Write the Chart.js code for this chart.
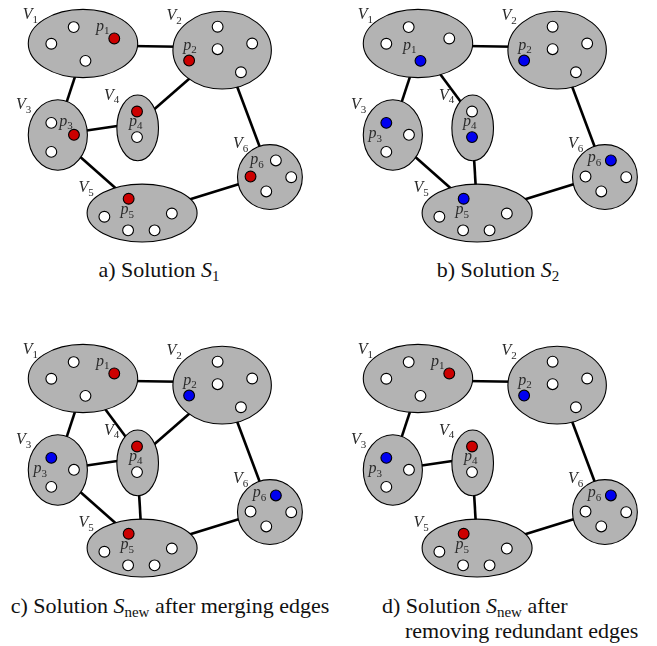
<!DOCTYPE html>
<html>
<head>
<meta charset="utf-8">
<script src="https://cdn.jsdelivr.net/npm/chart.js@4.4.1/dist/chart.umd.min.js"></script>
<style>
body { margin: 0; background: #fff; font-family: 'Liberation Serif', serif; }
#page { position: relative; width: 657px; height: 646px; color: #111; }
.panel { position: absolute; width: 322px; height: 252px; }
.cap { position: absolute; font-family: 'Liberation Serif', serif; font-size: 22px; line-height: 25px; white-space: nowrap; }
.cap i { font-style: italic; }
.cap sub { font-size: 15px; vertical-align: -4px; line-height: 0; }
</style>
</head>
<body>
<div id="page">
  <div class="panel" style="left:0;top:0"><canvas id="panel-a" width="322" height="252"></canvas></div>
  <div class="panel" style="left:335px;top:0"><canvas id="panel-b" width="322" height="252"></canvas></div>
  <div class="panel" style="left:0;top:335px"><canvas id="panel-c" width="322" height="252"></canvas></div>
  <div class="panel" style="left:335px;top:335px"><canvas id="panel-d" width="322" height="252"></canvas></div>

  <div class="cap" style="left:0;top:257px;width:318px;text-align:center">a) Solution <i>S</i><sub>1</sub></div>
  <div class="cap" style="left:339px;top:257px;width:318px;text-align:center">b) Solution <i>S</i><sub>2</sub></div>
  <div class="cap" style="left:0;top:593px;width:340px;text-align:center">c) Solution <i>S</i><sub>new</sub> after merging edges</div>
  <div class="cap" style="left:382px;top:593px">d) Solution <i>S</i><sub>new</sub> after<br><span style="padding-left:23px">removing redundant edges</span></div>
</div>

<script>
// clusters V1..V6 (diagram units, y grows downward)
const clusterNames = ['V1', 'V2', 'V3', 'V4', 'V5', 'V6'];
const clusterX = [79.7, 224.7, 53.5, 136.7, 141.3, 274.5];
const clusterY = [39, 46, 135.5, 128, 217.8, 179.8];
const clusterRx = [57, 51.3, 30.8, 21.7, 57.3, 33.8];
const clusterRy = [36, 41, 37.2, 34.7, 30.5, 34.2];

// members of each cluster
const membersX = [
    [70, 46.7, 82.3, 112.3],
    [220, 220, 256, 244.3, 190.3],
    [46.7, 46.7, 70.3],
    [136, 136],
    [127.3, 102, 126.7, 154.3, 172.3],
    [254.3, 280.7, 296.7, 270.7]
];
const membersY = [
    [21.7, 39.3, 57.3, 33.7],
    [21.3, 45, 39, 69.3, 57],
    [122.7, 153.3, 135.3],
    [110.7, 137.7],
    [202.7, 221.7, 236, 236, 218.3],
    [179.3, 162.3, 180, 195]
];

// which member is the representative p_i, and which solution it comes from
const repA = [3, 4, 2, 0, 0, 0];
const repB = [2, 4, 0, 1, 0, 1];
const repNew = [3, 4, 0, 0, 0, 1];
const srcA = ['S1', 'S1', 'S1', 'S1', 'S1', 'S1'];
const srcB = ['S2', 'S2', 'S2', 'S2', 'S2', 'S2'];
const srcNew = ['S1', 'S2', 'S2', 'S1', 'S1', 'S2'];

// edges between clusters
const edgesA = ['1-2', '1-3', '3-4', '2-4', '2-6', '3-5', '5-6'];
const edgesB = ['1-2', '1-3', '1-4', '4-5', '2-6', '3-5', '5-6'];
const edgesC = ['1-2', '1-3', '1-4', '3-4', '2-4', '4-5', '2-6', '3-5', '5-6'];
const edgesD = ['1-2', '1-3', '3-4', '4-5', '2-6', '5-6'];
const edgeEnds = {
    '1-2': [130, 41.6, 180, 42.4],
    '1-3': [72, 72, 62, 103],
    '1-4': [100.8, 68.5, 124.6, 101],
    '3-4': [80, 131.3, 119, 125.4],
    '2-4': [151, 111, 194, 73],
    '4-5': [138, 158, 140, 192],
    '2-6': [239, 81, 265, 151],
    '3-5': [74, 156, 117, 194.5],
    '5-6': [188, 204.2, 246, 186]
};

// label placement
const vLabelX = [17, 166.7, 10, 101.7, 75, 236];
const vLabelY = [13.3, 14.3, 108.3, 98.5, 196, 149.5];
const pLabelPos = {
    '0:3': [93.3, 25.5], '0:2': [64.2, 45.5],
    '1:4': [184.3, 45.5],
    '2:2': [55, 125.5], '2:0': [28.2, 139],
    '3:0': [127.7, 125.5], '3:1': [126.5, 125.5],
    '4:0': [118.7, 219],
    '5:0': [254, 166.5], '5:1': [256.5, 164]
};

const solutionColor = { S1: '#cc0000', S2: '#0000f0' };
const labelFont = "'Liberation Serif', serif";
Chart.defaults.font.family = labelFont;

function drawLabel(ctx, x, y, base, sub) {
    ctx.font = 'italic 16px ' + labelFont;
    ctx.fillText(base, x, y);
    const w = ctx.measureText(base).width;
    ctx.font = '11px ' + labelFont;
    ctx.fillText(sub, x + w, y + 3.5);
}

const clusterPlugin = {
    id: 'clusters',
    beforeDatasetDraw(chart, args) {
        if (chart.data.datasets[args.index].role !== 'members') return;
        const { ctx } = chart;
        const xs = chart.scales.x, ys = chart.scales.y;
        ctx.save();
        clusterNames.forEach((n, i) => {
            const cx = xs.getPixelForValue(clusterX[i]);
            const cy = ys.getPixelForValue(clusterY[i]);
            const rx = Math.abs(xs.getPixelForValue(clusterX[i] + clusterRx[i]) - cx);
            const ry = Math.abs(ys.getPixelForValue(clusterY[i] + clusterRy[i]) - cy);
            ctx.beginPath();
            ctx.ellipse(cx, cy, rx, ry, 0, 0, Math.PI * 2);
            ctx.fillStyle = '#b3b3b3';
            ctx.fill();
            ctx.lineWidth = 1.1;
            ctx.strokeStyle = '#000';
            ctx.stroke();
        });
        ctx.restore();
    },
    afterDatasetsDraw(chart) {
        const { ctx } = chart;
        const xs = chart.scales.x, ys = chart.scales.y;
        const reps = chart.options.plugins.clusters.reps;
        ctx.save();
        ctx.fillStyle = '#2a2a2a';
        ctx.textBaseline = 'alphabetic';
        ctx.textAlign = 'left';
        clusterNames.forEach((n, i) => {
            drawLabel(ctx, xs.getPixelForValue(vLabelX[i]), ys.getPixelForValue(vLabelY[i]), 'V', String(i + 1));
            const pos = pLabelPos[i + ':' + reps[i]];
            drawLabel(ctx, xs.getPixelForValue(pos[0]), ys.getPixelForValue(pos[1]), 'p', String(i + 1));
        });
        ctx.restore();
    }
};

function makePanel(canvasId, reps, sources, edges) {
    const datasets = edges.map(key => {
        const e = edgeEnds[key];
        return {
            label: 'V' + key.replace('-', '-V'),
            data: [{ x: e[0], y: e[1] }, { x: e[2], y: e[3] }],
            showLine: true,
            borderColor: '#000',
            borderWidth: 2.6,
            pointRadius: 0,
            order: 1
        };
    });

    const points = [], colors = [];
    clusterNames.forEach((n, i) => {
        membersX[i].forEach((mx, j) => {
            points.push({ x: mx, y: membersY[i][j] });
            colors.push(j === reps[i] ? solutionColor[sources[i]] : '#ffffff');
        });
    });
    datasets.push({
        role: 'members',
        label: 'members',
        data: points,
        pointRadius: 5.4,
        pointBorderWidth: 1.1,
        pointBorderColor: '#000',
        pointBackgroundColor: colors,
        order: 0
    });

    return new Chart(document.getElementById(canvasId), {
        type: 'scatter',
        data: { datasets },
        options: {
            responsive: false,
            animation: false,
            devicePixelRatio: 1,
            events: [],
            layout: { padding: 0 },
            plugins: {
                legend: { display: false },
                tooltip: { enabled: false },
                clusters: { reps }
            },
            scales: {
                x: { type: 'linear', min: 0, max: 322, display: false },
                y: { type: 'linear', min: 0, max: 252, reverse: true, display: false }
            }
        },
        plugins: [clusterPlugin]
    });
}

makePanel('panel-a', repA, srcA, edgesA);
makePanel('panel-b', repB, srcB, edgesB);
makePanel('panel-c', repNew, srcNew, edgesC);
makePanel('panel-d', repNew, srcNew, edgesD);
</script>
</body>
</html>
